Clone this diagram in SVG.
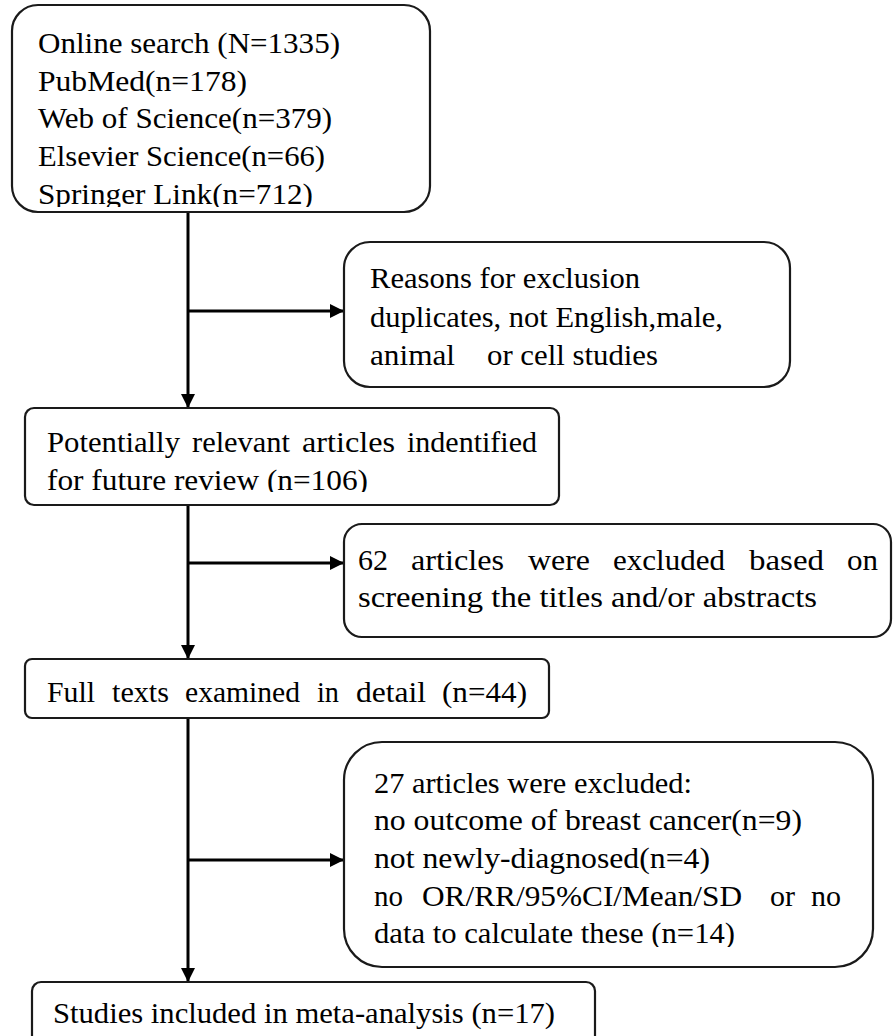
<svg xmlns="http://www.w3.org/2000/svg" width="893" height="1036" viewBox="0 0 893 1036">
<style>
.box{fill:#fff;stroke:#1a1a1a;stroke-width:2.2}
.t{font-family:"Liberation Serif","Times New Roman",serif;font-size:30px;fill:#000}
.c{stroke:#000;stroke-width:3;fill:none}
</style>
<defs>
<marker id="ah" markerUnits="userSpaceOnUse" markerWidth="16" markerHeight="16" viewBox="0 0 16 16" refX="15" refY="8" orient="auto">
<path d="M1,1 L15,8 L1,15 Z" fill="#000"/>
</marker>
<clipPath id="c1"><rect x="0" y="0" width="893" height="207"/></clipPath>
<clipPath id="c3"><rect x="0" y="400" width="893" height="92"/></clipPath>
<clipPath id="c6"><rect x="0" y="740" width="893" height="207"/></clipPath>
</defs>
<rect width="893" height="1036" fill="#fff"/>
<g id="connectors">
<line class="c" x1="188" y1="212" x2="188" y2="408" marker-end="url(#ah)"/>
<line class="c" x1="188" y1="311" x2="344" y2="311" marker-end="url(#ah)"/>
<line class="c" x1="188" y1="505" x2="188" y2="659" marker-end="url(#ah)"/>
<line class="c" x1="188" y1="563" x2="344" y2="563" marker-end="url(#ah)"/>
<line class="c" x1="188" y1="718" x2="188" y2="982" marker-end="url(#ah)"/>
<line class="c" x1="188" y1="860" x2="344" y2="860" marker-end="url(#ah)"/>
</g>
<g id="n1">
<rect class="box" x="12" y="5" width="418" height="207" rx="26"/>
<g clip-path="url(#c1)">
<text class="t" x="38" y="53" textLength="302" lengthAdjust="spacingAndGlyphs">Online search (N=1335)</text>
<text class="t" x="38" y="91" textLength="209" lengthAdjust="spacingAndGlyphs">PubMed(n=178)</text>
<text class="t" x="38" y="128" textLength="294" lengthAdjust="spacingAndGlyphs">Web of Science(n=379)</text>
<text class="t" x="38" y="166" textLength="287" lengthAdjust="spacingAndGlyphs">Elsevier Science(n=66)</text>
<text class="t" x="38" y="204" textLength="275" lengthAdjust="spacingAndGlyphs">Springer Link(n=712)</text>
</g>
</g>
<g id="n2">
<rect class="box" x="344" y="242" width="446" height="145" rx="26"/>
<text class="t" x="370" y="288" textLength="270" lengthAdjust="spacingAndGlyphs">Reasons for exclusion</text>
<text class="t" x="370" y="327" textLength="353" lengthAdjust="spacingAndGlyphs">duplicates, not English,male,</text>
<text class="t" x="370" y="365" textLength="85" lengthAdjust="spacingAndGlyphs">animal</text>
<text class="t" x="487" y="365" textLength="171" lengthAdjust="spacingAndGlyphs">or cell studies</text>
</g>
<g id="n3">
<rect class="box" x="25" y="408" width="534" height="97" rx="9"/>
<g clip-path="url(#c3)">
<text class="t" y="452"><tspan x="47" textLength="133" lengthAdjust="spacingAndGlyphs">Potentially</tspan><tspan x="192" textLength="98" lengthAdjust="spacingAndGlyphs">relevant</tspan><tspan x="302" textLength="93" lengthAdjust="spacingAndGlyphs">articles</tspan><tspan x="407" textLength="130" lengthAdjust="spacingAndGlyphs">indentified</tspan></text>
<text class="t" x="47" y="490" textLength="321" lengthAdjust="spacingAndGlyphs">for future review (n=106)</text>
</g>
</g>
<g id="n4">
<rect class="box" x="344" y="524" width="547" height="113" rx="18"/>
<text class="t" y="570"><tspan x="358" textLength="30" lengthAdjust="spacingAndGlyphs">62</tspan><tspan x="411" textLength="93" lengthAdjust="spacingAndGlyphs">articles</tspan><tspan x="528" textLength="62" lengthAdjust="spacingAndGlyphs">were</tspan><tspan x="613" textLength="112" lengthAdjust="spacingAndGlyphs">excluded</tspan><tspan x="749" textLength="75" lengthAdjust="spacingAndGlyphs">based</tspan><tspan x="847" textLength="31" lengthAdjust="spacingAndGlyphs">on</tspan></text>
<text class="t" x="358" y="607" textLength="459" lengthAdjust="spacingAndGlyphs">screening the titles and/or abstracts</text>
</g>
<g id="n5">
<rect class="box" x="25" y="659" width="524" height="59" rx="7"/>
<text class="t" y="702"><tspan x="47" textLength="48" lengthAdjust="spacingAndGlyphs">Full</tspan><tspan x="112" textLength="57" lengthAdjust="spacingAndGlyphs">texts</tspan><tspan x="185" textLength="115" lengthAdjust="spacingAndGlyphs">examined</tspan><tspan x="317" textLength="22" lengthAdjust="spacingAndGlyphs">in</tspan><tspan x="356" textLength="70" lengthAdjust="spacingAndGlyphs">detail</tspan><tspan x="442" textLength="85" lengthAdjust="spacingAndGlyphs">(n=44)</tspan></text>
</g>
<g id="n6">
<rect class="box" x="344" y="742" width="529" height="225" rx="38"/>
<g clip-path="url(#c6)">
<text class="t" x="374" y="793" textLength="318" lengthAdjust="spacingAndGlyphs">27 articles were excluded:</text>
<text class="t" x="374" y="830" textLength="428" lengthAdjust="spacingAndGlyphs">no outcome of breast cancer(n=9)</text>
<text class="t" x="374" y="868" textLength="336" lengthAdjust="spacingAndGlyphs">not newly-diagnosed(n=4)</text>
<text class="t" y="906"><tspan x="374" textLength="29" lengthAdjust="spacingAndGlyphs">no</tspan><tspan x="422" textLength="320" lengthAdjust="spacingAndGlyphs">OR/RR/95%CI/Mean/SD</tspan><tspan x="770" textLength="25" lengthAdjust="spacingAndGlyphs">or</tspan><tspan x="811" textLength="30" lengthAdjust="spacingAndGlyphs">no</tspan></text>
<text class="t" x="374" y="943" textLength="361" lengthAdjust="spacingAndGlyphs">data to calculate these (n=14)</text>
</g>
</g>
<g id="n7">
<rect class="box" x="32" y="982" width="563" height="70" rx="9"/>
<text class="t" x="53" y="1023" textLength="502" lengthAdjust="spacingAndGlyphs">Studies included in meta-analysis (n=17)</text>
</g>
</svg>
